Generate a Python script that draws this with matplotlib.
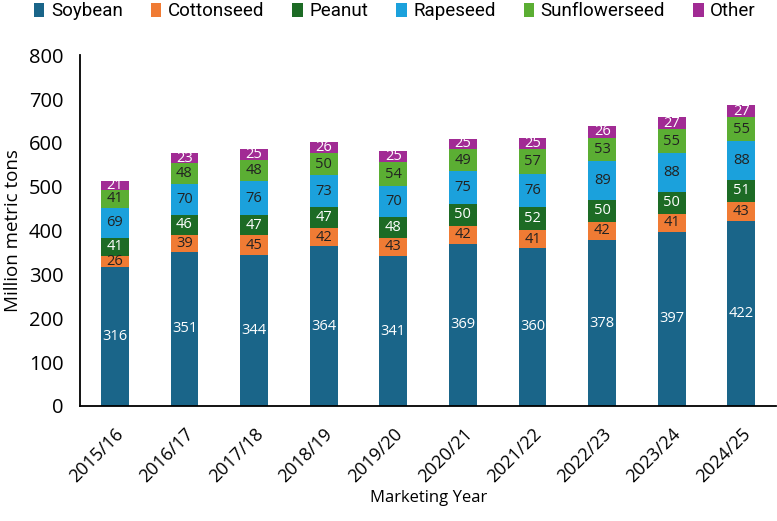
import numpy as np
import matplotlib.pyplot as plt

# Dati
anni = ['2015/16', '2016/17', '2017/18', '2018/19', '2019/20',
        '2020/21', '2021/22', '2022/23', '2023/24', '2024/25']
soybean = [316, 351, 344, 364, 341, 369, 360, 378, 397, 422]
cottonseed = [26, 39, 45, 42, 43, 42, 41, 42, 41, 43]
peanut = [41, 46, 47, 47, 48, 50, 52, 50, 50, 51]
rapeseed = [69, 70, 76, 73, 70, 75, 76, 89, 88, 88]
sunflower = [41, 48, 48, 50, 54, 49, 57, 53, 55, 55]
other = [21, 23, 25, 26, 25, 25, 25, 26, 27, 27]

serie = [
    ('Soybean', soybean, '#1a6589', 'white'),
    ('Cottonseed', cottonseed, '#f07b34', '#222222'),
    ('Peanut', peanut, '#1d6b25', 'white'),
    ('Rapeseed', rapeseed, '#1ba1dc', '#222222'),
    ('Sunflowerseed', sunflower, '#5bae33', '#222222'),
    ('Other', other, '#a12b94', 'white'),
]

plt.rcParams['font.family'] = ['Open Sans', 'DejaVu Sans']

fig = plt.figure(figsize=(7.77, 5.21), dpi=100)
ax = fig.add_axes([0.103, 0.221, 0.896, 0.673])

x = np.arange(len(anni))
base = np.zeros(len(anni))
for nome, valori, colore, col_testo in serie:
    v = np.array(valori, dtype=float)
    barre = ax.bar(x, v, 0.4, bottom=base, color=colore, label=nome)
    ax.bar_label(barre, labels=[str(int(k)) for k in v], label_type='center',
                 color=col_testo, fontsize=10.5)
    base = base + v

ax.set_xlim(-0.5, len(anni) - 0.5)
ax.set_ylim(0, 800)
ax.set_yticks(np.arange(0, 801, 100))
ax.set_xticks(x)
ax.set_xticklabels(anni, rotation=45, ha='right', rotation_mode='anchor', fontsize=13)
ax.tick_params(axis='y', length=0, labelsize=14.5, pad=12)
ax.tick_params(axis='x', length=0, pad=14)
ax.spines['top'].set_visible(False)
ax.spines['right'].set_visible(False)
ax.spines['left'].set_linewidth(1.3)
ax.spines['bottom'].set_linewidth(1.3)
ax.set_ylabel('Million metric tons', fontsize=13.5, labelpad=5)
ax.set_xlabel('Marketing Year', fontsize=12, labelpad=3)

fig.legend(loc='upper left', bbox_to_anchor=(0.022, 1.028), ncol=6, frameon=False,
           prop={'family': ['Roboto', 'DejaVu Sans'], 'size': 13.5},
           handlelength=0.55, handleheight=0.75, handletextpad=0.35,
           columnspacing=1.5)

fig.savefig('out.png', dpi=100)
